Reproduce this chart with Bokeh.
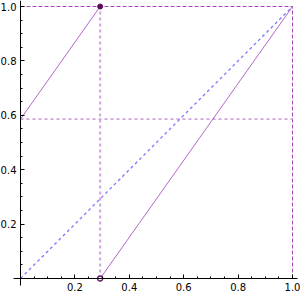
from bokeh.plotting import figure
from bokeh.models import LinearAxis, FixedTicker, PrintfTickFormatter, Range1d
from bokeh.embed import file_html
from bokeh.resources import INLINE

# data: f(x) = frac(sqrt(2)*x + 2 - sqrt(2)) on [0,1]
x_jump = 0.2929
y_start = 0.5858
seg1_x = [0.0, 0.2929]
seg1_y = [0.5858, 1.0]
seg2_x = [0.2929, 1.0]
seg2_y = [0.0, 1.0]
diag_x = [0.0, 1.0]
diag_y = [0.0, 1.0]
closed_pt = ([0.2929], [1.0])
open_pt = ([0.2929], [0.0])
major_ticks = [0.2, 0.4, 0.6, 0.8, 1.0]
minor_ticks = [0.05, 0.1, 0.15, 0.25, 0.3, 0.35, 0.45, 0.5, 0.55, 0.65, 0.7, 0.75, 0.85, 0.9, 0.95]

p = figure(width=300, height=294, output_backend="svg", toolbar_location=None,
           x_axis_type=None, y_axis_type=None,
           x_range=Range1d(-20/272, 280/272), y_range=Range1d(-16/272, 1 + 6/272),
           min_border=0)
p.outline_line_color = None
p.background_fill_color = "white"

# guide lines
p.line([0, 1], [1, 1], line_color="#a848b8", line_width=1, line_dash="4 2")
p.line([1, 1], [0, 1], line_color="#a848b8", line_width=1, line_dash="4 2")
p.line([0, 1], [y_start, y_start], line_color="#d0a4dc", line_width=1.6, line_dash="3 3")
p.line([x_jump, x_jump], [0, 1], line_color="#d0a4dc", line_width=2, line_dash="3 3")
p.line(diag_x, diag_y, line_color="#7878ff", line_width=1.3, line_dash="3 3")

# function
p.line(seg1_x, seg1_y, line_color="#b468c8", line_width=1)
p.line(seg2_x, seg2_y, line_color="#b468c8", line_width=1)

p.scatter(closed_pt[0], closed_pt[1], size=5, fill_color="#5c0c5c", line_color="#5c0c5c")
p.scatter(open_pt[0], open_pt[1], size=5, fill_color="white", line_color="#6a1a6a", line_width=1.3)

for loc, ax in (("below", LinearAxis(fixed_location=0, bounds=(-0.026, 1.02))),
                ("left", LinearAxis(fixed_location=0, bounds=(-0.026, 1.022)))):
    ax.ticker = FixedTicker(ticks=major_ticks, minor_ticks=minor_ticks)
    ax.formatter = PrintfTickFormatter(format="%.1f")
    ax.major_tick_in = 4
    ax.major_tick_out = 0
    ax.minor_tick_in = 2
    ax.minor_tick_out = 0
    ax.axis_line_color = "black"
    ax.major_tick_line_color = "black"
    ax.minor_tick_line_color = "black"
    ax.major_label_text_font = "DejaVu Sans"
    ax.major_label_text_font_size = "10px"
    ax.major_label_text_color = "black"
    ax.major_label_standoff = 4
    p.add_layout(ax, loc)

open("out.html", "w").write(file_html(p, INLINE))
